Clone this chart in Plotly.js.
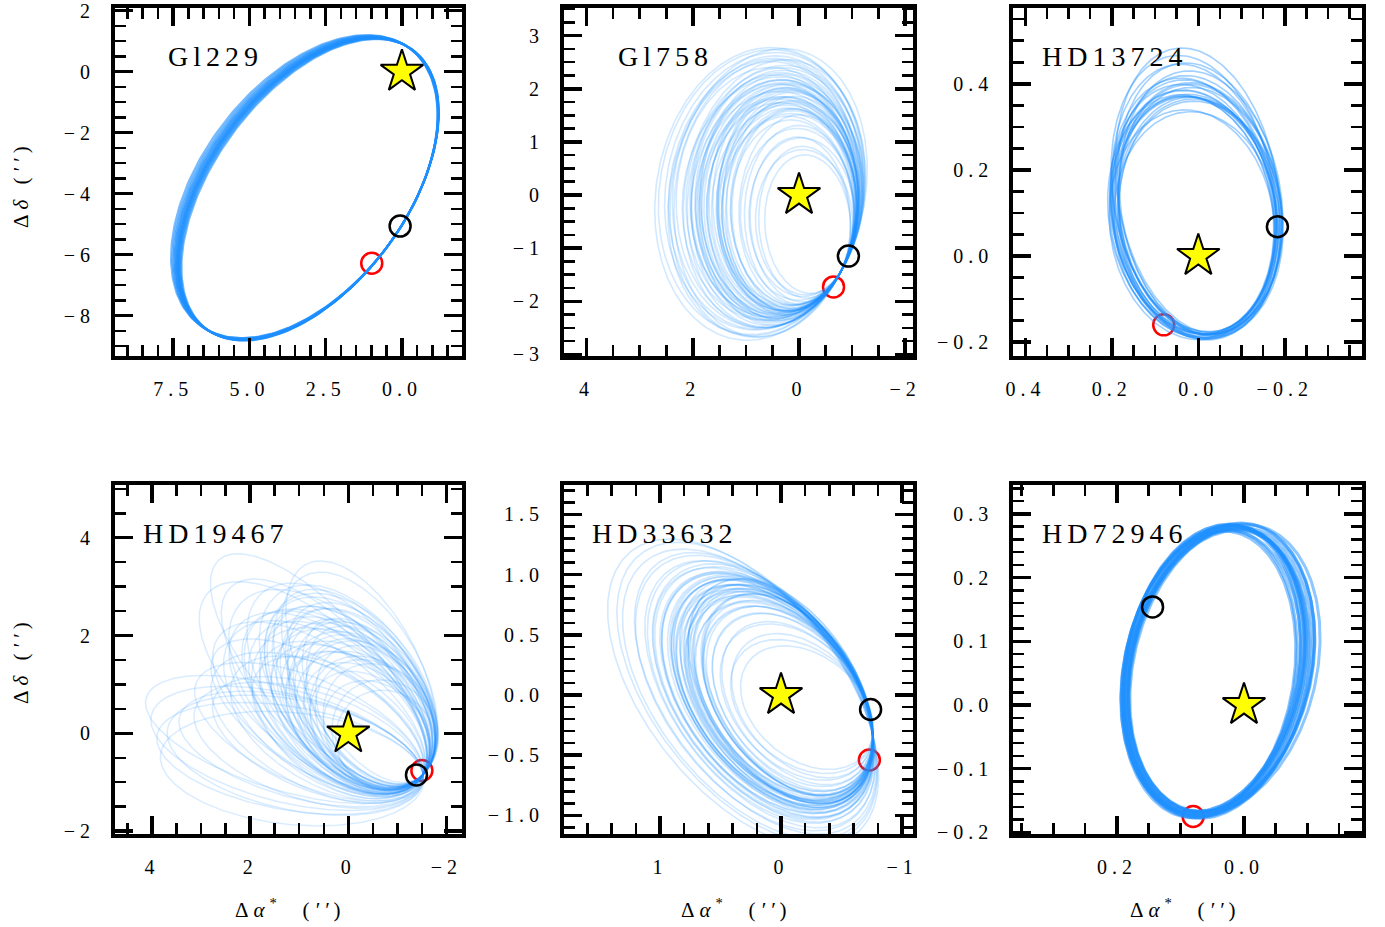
<!DOCTYPE html>
<html><head><meta charset="utf-8">
<script src="https://cdn.plot.ly/plotly-3.0.1.min.js"></script>
<style>
html,body{margin:0;padding:0;background:#fff;}
#plot{width:1385px;height:927px;}
g[class$="tick"] > text { letter-spacing: 5px; }
.annotation-text { letter-spacing: 5px; }
</style>
</head><body><div id="plot"></div>
<script>
// ---------------- data ----------------
const panelNames = ["Gl229", "Gl758", "HD13724", "HD19467", "HD33632", "HD72946"];
const hostX = [0, 0, 0, 0, 0, 0];
const hostY = [0, 0, 0, 0, 0, 0];
const blackX = [0.06, -0.93, -0.183, -1.39, -0.74, 0.144];
const blackY = [-5.06, -1.15, 0.068, -0.85, -0.12, 0.154];
const redX = [0.99, -0.65, 0.080, -1.50, -0.73, 0.080];
const redY = [-6.28, -1.73, -0.160, -0.76, -0.54, -0.175];

const xRanges = [[9.41, -1.97], [4.426, -2.141], [0.428, -0.378], [4.756, -2.318], [1.793, -1.088], [0.3633, -0.1854]];
const yRanges = [[-9.32, 2.09], [-3.03, 3.52], [-0.2323, 0.576], [-2.059, 5.078], [-1.154, 1.744], [-0.2025, 0.3454]];
const xTickVals = [[7.5, 5.0, 2.5, 0.0], [4, 2, 0, -2], [0.4, 0.2, 0.0, -0.2], [4, 2, 0, -2], [1, 0, -1], [0.2, 0.0]];
const xTickText = [["7.5", "5.0", "2.5", "0.0"], ["4", "2", "0", "\u22122"], ["0.4", "0.2", "0.0", "\u22120.2"], ["4", "2", "0", "\u22122"], ["1", "0", "\u22121"], ["0.2", "0.0"]];
const yTickVals = [[2, 0, -2, -4, -6, -8], [3, 2, 1, 0, -1, -2, -3], [0.4, 0.2, 0.0, -0.2], [4, 2, 0, -2], [1.5, 1.0, 0.5, 0.0, -0.5, -1.0], [0.3, 0.2, 0.1, 0.0, -0.1, -0.2]];
const yTickText = [["2", "0", "\u22122", "\u22124", "\u22126", "\u22128"], ["3", "2", "1", "0", "\u22121", "\u22122", "\u22123"], ["0.4", "0.2", "0.0", "\u22120.2"], ["4", "2", "0", "\u22122"], ["1.5", "1.0", "0.5", "0.0", "\u22120.5", "\u22121.0"], ["0.3", "0.2", "0.1", "0.0", "\u22120.1", "\u22120.2"]];
const xMinor = [0.5, 0.5, 0.05, 0.5, 0.2, 0.05];
const yMinor = [0.5, 0.25, 0.05, 0.5, 0.1, 0.02];

// reference orbit of each panel: centre, two conjugate semi-diameters, anchor angle (deg)
const base1 = {cx: 3.05, cy: -3.85, ux: -2.15, uy: 4.95, vx: 3.67, vy: 0, tA: 260};
const base2 = {cx: 0.25, cy: -0.10, ux: 0, uy: 2.1, vx: -1.35, vy: 0, tA: 130};
const base3 = {cx: 0.0045, cy: 0.0875, ux: 0.0185, uy: 0.2755, vx: 0.1895, vy: 0, tA: 210};
const base4 = {cx: -0.2, cy: 0.5, ux: 1.22, uy: 1.455, vx: -0.843, vy: 0.707, tA: 172};
const base5 = {cx: 0.02, cy: 0.01, ux: 0.33, uy: 0.91, vx: -0.706, vy: 0, tA: 112};
const base6 = {cx: 0.05, cy: 0.052, ux: -0.024, uy: 0.225, vx: 0.1354, vy: 0, tA: 120};

// Gl229 orbit draws: far-side displacement
const dx1 = [-0.085, -0.051, -0.026, 0, 0.017, 0.034, 0.051, 0.068, 0.085, 0.102, 0.128, 0.153, 0.179, 0.213, 0.255, 0.306];
const dy1 = [-0.05, -0.03, -0.015, 0, 0.01, 0.02, 0.03, 0.04, 0.05, 0.06, 0.075, 0.09, 0.105, 0.125, 0.15, 0.18];

// Gl758 orbit draws: scale of the two semi-diameters, shear, rotation (deg)
const k1_2 = [0.62, 0.65, 0.68, 0.71, 0.74, 0.77, 0.80, 0.83, 0.85, 0.87, 0.88, 0.90, 0.91, 0.92, 0.93, 0.94, 0.95, 0.96, 0.97, 0.98, 0.99, 1.00, 1.01, 1.02, 1.03, 1.04, 1.05, 1.06, 1.08, 1.10, 1.12, 1.13, 1.14, 1.16, 1.17, 1.19, 1.20, 1.21, 1.23, 1.24, 1.25, 1.27, 1.28, 1.30,
              0.86, 0.89, 0.92, 0.95, 0.97, 0.99, 1.01, 1.03, 1.05, 1.07, 1.09, 1.11];
const k2_2 = [0.60, 0.68, 0.64, 0.74, 0.70, 0.80, 0.76, 0.86, 0.82, 0.92, 0.88, 0.96, 0.90, 1.00, 0.94, 1.04, 0.98, 0.92, 1.06, 1.00, 1.10, 1.02, 0.96, 1.08, 1.12, 1.04, 1.16, 1.10, 1.14, 1.20, 1.12, 1.24, 1.18, 1.28, 1.22, 1.32, 1.26, 1.36, 1.30, 1.40, 1.34, 1.44, 1.38, 1.46,
              0.95, 0.85, 1.02, 0.92, 1.08, 0.98, 1.14, 1.04, 1.20, 1.10, 1.26, 1.16];
const sv_2 = [-0.04, -0.03, -0.02, -0.03, -0.01, -0.02, 0.00, -0.01, 0.00, 0.02, -0.01, 0.01, 0.03, 0.00, 0.02, 0.01, 0.04, 0.00, 0.03, 0.02, 0.05, 0.00, 0.02, 0.04, 0.03, 0.06, 0.02, 0.05, 0.07, 0.04, 0.08, 0.06, 0.09, 0.07, 0.11, 0.08, 0.12, 0.10, 0.14, 0.11, 0.15, 0.13, 0.17, 0.16,
              0.00, 0.01, 0.02, 0.00, 0.03, 0.01, 0.04, 0.02, 0.06, 0.03, 0.07, 0.05];
const r_2 = [0, 1, -1, 2, -2, 1, 0, -1, 2, -2, 1, 0, -1, 2, 0, -2, 1, -1, 0, 2, -2, 1, -1, 0, 2, -1, 1, -2, 0, 1, -1, 2, 0, -2, 1, -1, 2, 0, -2, 1, -1, 0, 2, -1,
             1, -1, 0, 2, -2, 1, -1, 0, 2, -1, 1, -2];

// HD13724 orbit draws
const dx3 = [0.00, 0.004, -0.004, 0.002, -0.002, 0.006, -0.006, 0.003, -0.003, 0.005, -0.005, 0.001, -0.001, 0.004, -0.004, 0.002, -0.002, 0.000, 0.003, -0.003, 0.001, -0.001, 0.002, -0.002];
const dy3 = [-0.03, -0.02, -0.01, 0.00, 0.005, 0.01, 0.015, 0.02, 0.025, 0.03, 0.035, 0.04, 0.05, 0.06, 0.07, 0.08, 0.095, 0.11, 0.02, 0.045, 0.0, 0.125, 0.012, 0.038];
const ox3 = [0.000, 0.008, -0.007, 0.004, -0.010, 0.010, -0.003, 0.006, -0.008, 0.002, -0.005, 0.009, -0.001, 0.005, -0.009, 0.003, -0.006, 0.007, -0.004, 0.006, 0.002, -0.002, 0.009, -0.008];
const oy3 = [0.000, -0.005, 0.006, 0.008, -0.003, 0.002, -0.008, 0.004, 0.005, -0.007, 0.003, -0.002, 0.009, -0.006, 0.001, 0.007, -0.004, -0.001, -0.006, 0.004, 0.007, 0.002, -0.003, 0.004];

// HD19467 orbit draws
const k1_4 = [0.55, 0.60, 0.65, 0.70, 0.74, 0.78, 0.82, 0.85, 0.88, 0.90, 0.92, 0.94, 0.96, 0.98, 1.00, 1.02, 1.04, 1.06, 1.08, 1.10, 1.12, 1.14, 1.16, 1.18, 1.20, 1.22, 1.25, 1.28, 1.31, 1.35, 1.05, 1.15, 1.25, 1.30, 1.20, 1.28, 1.35, 1.40, 1.45, 1.50,
              0.75, 0.80, 0.86, 0.91, 0.95, 0.99, 1.03, 1.07, 1.11, 1.15, 1.19, 1.23, 1.27, 1.33, 1.32, 1.42, 1.55,
              1.45, 1.52, 1.60, 1.25, 1.30];
const k2_4 = [0.90, 0.95, 0.88, 1.00, 0.92, 1.04, 0.96, 1.08, 1.00, 1.05, 1.12, 0.98, 1.06, 1.14, 1.02, 1.10, 1.16, 1.04, 1.20, 1.12, 1.24, 1.08, 1.18, 1.26, 1.14, 1.22, 1.28, 1.18, 1.25, 1.30, 1.00, 1.05, 1.10, 1.00, 0.95, 1.00, 0.92, 1.02, 0.96, 1.00,
              1.00, 0.94, 1.10, 1.02, 1.16, 0.98, 1.20, 1.08, 1.26, 1.14, 1.30, 1.18, 1.22, 1.12, 0.98, 1.04, 0.94,
              1.10, 1.20, 1.05, 1.15, 1.08];
const r_4 = [0, 4, -3, 6, -5, 2, 7, -2, 5, -6, 3, 8, -4, 6, -8, 4, 0, -10, 5, 7, -3, 2, -7, 3, 6, -5, 4, -9, 1, -4, -16, -20, -22, -18, -28, -32, -35, -38, -40, -36,
             3, -4, 5, -6, 2, 8, -3, 6, -8, 1, 4, -6, -12, -14, -26, -44, -33,
             -4, -8, -2, 11, 13];

// HD33632 orbit draws
const k1_5 = [0.55, 0.60, 0.65, 0.70, 0.74, 0.78, 0.81, 0.84, 0.87, 0.89, 0.91, 0.93, 0.94, 0.95, 0.96, 0.97, 0.98, 0.99, 1.00, 1.01, 1.02, 1.03, 1.04, 1.05, 1.06, 1.08, 1.10, 1.12, 1.14, 1.17, 1.20, 1.23, 1.27, 1.31, 1.35, 1.40, 1.45, 1.50, 0.92, 0.97, 1.00, 1.03, 1.07, 0.88,
              0.84, 0.88, 0.91, 0.94, 0.97, 1.00, 1.02, 1.05, 1.08, 1.11, 1.15, 1.19];
const k2_5 = [0.75, 0.80, 0.78, 0.85, 0.82, 0.88, 0.86, 0.92, 0.90, 0.95, 0.93, 0.98, 0.96, 1.00, 0.94, 0.99, 1.02, 0.97, 1.00, 1.04, 0.98, 1.03, 1.06, 1.01, 1.05, 1.08, 1.04, 1.10, 1.07, 1.12, 1.10, 1.14, 1.12, 1.17, 1.15, 1.20, 1.22, 1.25, 0.90, 1.02, 0.96, 1.00, 1.06, 0.92,
              0.90, 0.96, 0.92, 1.00, 0.95, 1.03, 0.98, 1.06, 1.02, 1.10, 1.08, 1.13];
const r_5 = [4, 3, 2, 3, 1, 2, 0, 1, -1, 0, 2, -1, 1, 0, -2, 0, 1, -1, 0, -1, 1, -2, 0, -1, -2, -1, -3, -2, -4, -3, -5, -4, -6, -6, -7, -8, -8, -9, 1, -1, 0, -2, -1, 1,
             1, 0, 2, -1, 0, -2, 1, -1, -3, -2, -4, -3];

// HD72946 orbit draws
const dx6 = [0.004, 0, -0.003, -0.006, -0.009, -0.012, -0.015, -0.017, -0.020, -0.023, -0.026, -0.029, -0.002, -0.008, -0.014, -0.019, -0.005, -0.011];
const dy6 = [-0.001, 0, 0.001, 0.001, 0.002, 0.003, 0.004, 0.004, 0.005, 0.006, 0.006, 0.007, 0.000, 0.002, 0.003, 0.005, 0.001, 0.003];
const ox6 = [0.000, 0.006, -0.005, 0.003, -0.006, 0.005, -0.002, 0.007, -0.004, 0.002, -0.007, 0.004, 0.001, -0.003, 0.006, -0.005, 0.003, -0.001];
const oy6 = [0.000, -0.004, 0.005, 0.006, -0.002, 0.003, -0.006, 0.001, 0.004, -0.005, 0.002, -0.003, 0.006, -0.001, 0.002, 0.005, -0.004, 0.000];

// ---------------- construction ----------------
const NPTS = 240;
function orbit(b, k1, k2, sv, rDeg, dx, dy, ox, oy) {
  const tA = b.tA * Math.PI / 180, r = rDeg * Math.PI / 180;
  const Ax = b.cx + b.ux * Math.cos(tA) + b.vx * Math.sin(tA);
  const Ay = b.cy + b.uy * Math.cos(tA) + b.vy * Math.sin(tA);
  const px = k1 * b.ux, py = k1 * b.uy;
  const qx = k2 * b.vx + sv * b.ux, qy = k2 * b.vy + sv * b.uy;
  const xs = [], ys = [];
  for (let i = 0; i <= NPTS; i++) {
    const t = 2 * Math.PI * i / NPTS;
    const c = Math.cos(t) - Math.cos(tA), s = Math.sin(t) - Math.sin(tA);
    const ex = px * c + qx * s, ey = py * c + qy * s;
    const w = (1 - Math.cos(t - tA)) / 2;
    xs.push(Ax + Math.cos(r) * ex - Math.sin(r) * ey + dx * w + ox);
    ys.push(Ay + Math.sin(r) * ex + Math.cos(r) * ey + dy * w + oy);
  }
  return [xs, ys];
}

const BLUE = '#1E90FF';
const panelOrbits = [[], [], [], [], [], []];
dx1.forEach((d, i) => panelOrbits[0].push(orbit(base1, 1, 1, 0, 0, dx1[i], dy1[i], 0, 0)));
k1_2.forEach((d, i) => panelOrbits[1].push(orbit(base2, k1_2[i], k2_2[i], sv_2[i], r_2[i], 0, 0, 0, 0)));
dy3.forEach((d, i) => panelOrbits[2].push(orbit(base3, 1, 1, 0, 0, dx3[i], dy3[i], ox3[i], oy3[i])));
k1_4.forEach((d, i) => panelOrbits[3].push(orbit(base4, k1_4[i], k2_4[i], 0, r_4[i], 0, 0, 0, 0)));
k1_5.forEach((d, i) => panelOrbits[4].push(orbit(base5, k1_5[i], k2_5[i], 0, r_5[i], 0, 0, 0, 0)));
dx6.forEach((d, i) => panelOrbits[5].push(orbit(base6, 1, 1, 0, 0, dx6[i], dy6[i], ox6[i], oy6[i])));
const orbitWidth = [2, 1.6, 1.6, 1.5, 1.6, 3];
const orbitAlpha = [0.6, 0.2, 0.42, 0.17, 0.2, 0.5];

const traces = [];
for (let p = 0; p < 6; p++) {
  const xa = p === 0 ? 'x' : 'x' + (p + 1), ya = p === 0 ? 'y' : 'y' + (p + 1);
  traces.push({type: 'scatter', mode: 'markers', x: [redX[p]], y: [redY[p]], xaxis: xa, yaxis: ya,
    marker: {symbol: 'circle-open', size: 21, color: '#FF0000', line: {width: 2.5, color: '#FF0000'}}, hoverinfo: 'skip', showlegend: false});
  panelOrbits[p].forEach(o => traces.push({type: 'scatter', mode: 'lines', x: o[0], y: o[1], xaxis: xa, yaxis: ya,
    line: {color: BLUE, width: orbitWidth[p]}, opacity: orbitAlpha[p], hoverinfo: 'skip', showlegend: false}));
  traces.push({type: 'scatter', mode: 'markers', x: [blackX[p]], y: [blackY[p]], xaxis: xa, yaxis: ya,
    marker: {symbol: 'circle-open', size: 21, color: '#000', line: {width: 2.5, color: '#000'}}, hoverinfo: 'skip', showlegend: false});
  traces.push({type: 'scatter', mode: 'markers', x: [hostX[p]], y: [hostY[p]], xaxis: xa, yaxis: ya,
    marker: {symbol: 'star', size: 32, color: '#FFFF00', line: {width: 2, color: '#000'}}, hoverinfo: 'skip', showlegend: false});
}

const colDom = [[0.08303, 0.33357], [0.40722, 0.65899], [0.73162, 0.98318]];
const rowDom = [[0.61597, 0.99137], [0.10032, 0.47681]];
const FONT = 'Liberation Serif, Times New Roman, serif';

function axis(p, isX) {
  const col = p % 3, row = Math.floor(p / 3);
  const other = isX ? 'y' : 'x';
  return {
    domain: isX ? colDom[col] : rowDom[row],
    anchor: p === 0 ? other : other + (p + 1),
    range: isX ? xRanges[p] : yRanges[p],
    tickmode: 'array', tickvals: isX ? xTickVals[p] : yTickVals[p], ticktext: isX ? xTickText[p] : yTickText[p],
    ticks: 'inside', ticklen: 18, tickwidth: 3.5, tickcolor: '#000',
    showline: true, linewidth: 4, linecolor: '#000', mirror: 'allticks',
    showgrid: false, zeroline: false, fixedrange: true,
    ticklabelstandoff: 12, ticklabeloverflow: 'allow',
    tickfont: {family: FONT, size: 20, color: '#000'},
    minor: {tickmode: 'linear', tick0: 0, dtick: isX ? xMinor[p] : yMinor[p], ticks: 'inside', ticklen: 11, tickwidth: 2.5, tickcolor: '#000', showgrid: false}
  };
}

const layout = {
  width: 1385, height: 927, margin: {l: 0, r: 0, t: 0, b: 0},
  paper_bgcolor: '#fff', plot_bgcolor: '#fff', showlegend: false,
  annotations: []
};
for (let p = 0; p < 6; p++) {
  const sfx = p === 0 ? '' : String(p + 1);
  layout['xaxis' + sfx] = axis(p, true);
  layout['yaxis' + sfx] = axis(p, false);
}
const nameX = [166, 616, 1040, 141, 590, 1040];
const nameY = [56, 56, 56, 533, 533, 533];
panelNames.forEach((n, p) => layout.annotations.push({text: n, xref: 'paper', yref: 'paper',
  x: nameX[p] / 1385, y: 1 - nameY[p] / 927, xanchor: 'left', yanchor: 'middle', showarrow: false,
  font: {family: FONT, size: 28, color: '#000'}}));
const ytitle = 'Δ<i>δ</i>\u00A0(<i>′′</i>)';
const xtitle = 'Δ<i>α</i><sup>*</sup>\u00A0\u00A0(<i>′′</i>)';
[185, 661].forEach(yy => layout.annotations.push({text: ytitle, xref: 'paper', yref: 'paper', x: 21 / 1385, y: 1 - yy / 927,
  xanchor: 'center', yanchor: 'middle', textangle: -90, showarrow: false, font: {family: FONT, size: 21, color: '#000'}}));
[290, 736, 1185].forEach(xx => layout.annotations.push({text: xtitle, xref: 'paper', yref: 'paper', x: xx / 1385, y: 1 - 908 / 927,
  xanchor: 'center', yanchor: 'middle', showarrow: false, font: {family: FONT, size: 21, color: '#000'}}));

Plotly.newPlot('plot', traces, layout, {staticPlot: true, displayModeBar: false});
</script>
</body></html>
